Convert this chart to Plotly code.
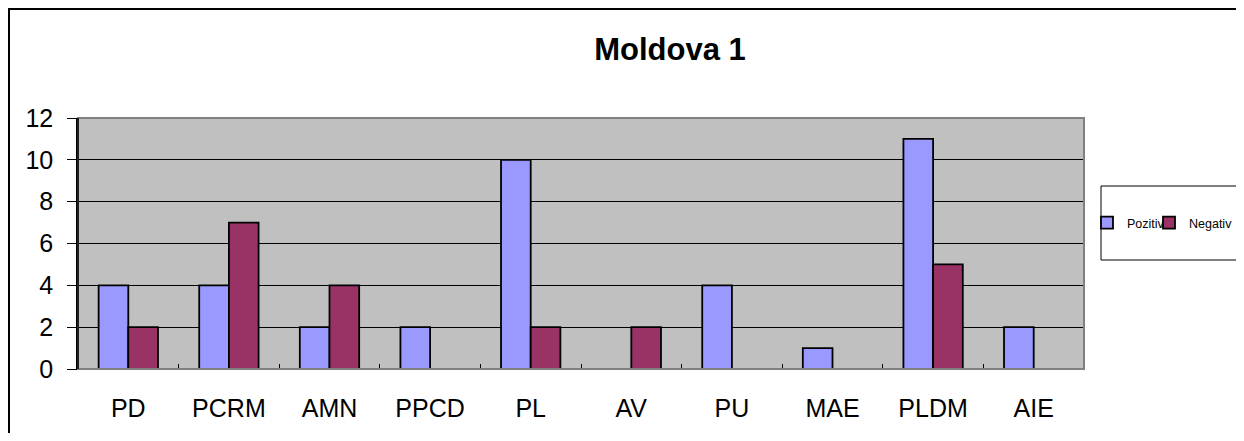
import plotly.graph_objects as go

categories = ["PD", "PCRM", "AMN", "PPCD", "PL", "AV", "PU", "MAE", "PLDM", "AIE"]
pozitiv = [4, 4, 2, 2, 10, 0, 4, 1, 11, 2]
negativ = [2, 7, 4, 0, 2, 2, 0, 0, 5, 0]
y_ticks = [0, 2, 4, 6, 8, 10, 12]

OFF = 8  # page body margin
W, H = 1244 - OFF, 441 - 2 * OFF
L, R, T, B = 78 - OFF, 1084 - OFF, 118 - OFF, 369 - OFF
pw, ph = R - L, B - T


def px_x(x):  # page pixel -> paper
    return (x - OFF - L) / pw


def px_y(y):
    return (B - (y - OFF)) / ph


FONT = "Arial, Liberation Sans, sans-serif"

fig = go.Figure()
fig.add_trace(go.Bar(x=categories, y=pozitiv, name="Pozitiv", legend="legend",
                     marker=dict(color="#9999FF", line=dict(color="black", width=1.8))))
fig.add_trace(go.Bar(x=categories, y=negativ, name="Negativ", legend="legend2",
                     marker=dict(color="#993366", line=dict(color="black", width=1.8))))

leg_common = dict(orientation="h", xanchor="left", yanchor="middle", y=px_y(223),
                  font=dict(size=12.5, family=FONT), bgcolor="rgba(0,0,0,0)",
                  itemwidth=30, borderwidth=0)

fig.update_layout(
    width=W, height=H,
    margin=dict(l=L, r=W - R, t=T, b=H - B, autoexpand=False),
    paper_bgcolor="white", plot_bgcolor="#C0C0C0",
    barmode="group", bargap=0.41, bargroupgap=0,
    font=dict(family=FONT, color="black"),
    title=dict(text="<b>Moldova 1</b>", x=(670 - OFF) / W, xanchor="center",
               y=1 - (49 - OFF) / H, yanchor="middle", font=dict(size=31, family=FONT)),
    legend=dict(x=px_x(1087), **leg_common),
    legend2=dict(x=px_x(1149), **leg_common),
    showlegend=True,
)
fig.update_xaxes(showline=True, linecolor="black", linewidth=1,
                 ticks="inside", tickson="boundaries", ticklen=5, tickcolor="black",
                 tickfont=dict(size=25), ticklabelstandoff=17, showgrid=False)
fig.update_yaxes(range=[0, 12], tickvals=y_ticks, showline=True, linecolor="black", linewidth=1.5,
                 ticks="outside", ticklen=9, tickcolor="black",
                 showgrid=True, gridcolor="black", gridwidth=1,
                 tickfont=dict(size=25), ticklabelstandoff=9, zeroline=False)

# plot area border (gray)
fig.add_shape(type="rect", xref="paper", yref="paper", x0=0, x1=1, y0=0, y1=1,
              line=dict(color="#808080", width=2), layer="above")
# y axis line over border
fig.add_shape(type="line", xref="paper", yref="paper", x0=0, x1=0, y0=0, y1=1,
              line=dict(color="black", width=1.5), layer="above")
# legend box
fig.add_shape(type="rect", xref="paper", yref="paper",
              x0=px_x(1101), x1=px_x(1240), y0=px_y(260), y1=px_y(186),
              line=dict(color="black", width=1), fillcolor="white", layer="below")
# chart border
fig.add_shape(type="rect", xref="paper", yref="paper",
              x0=px_x(9), x1=px_x(1400), y0=px_y(600), y1=px_y(9),
              line=dict(color="black", width=2), layer="below")

fig.write_html("out.html")
